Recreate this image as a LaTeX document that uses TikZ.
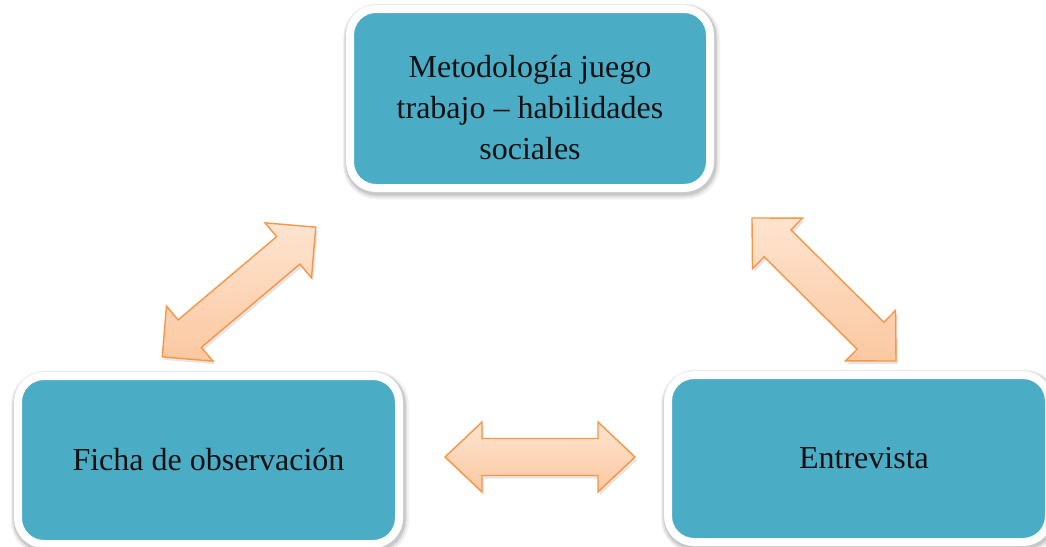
\documentclass[tikz,border=0pt]{standalone}
\usepackage{fontspec}
\setmainfont{Liberation Serif}
\usetikzlibrary{shadows}
\definecolor{teal1}{HTML}{4BACC6}
\definecolor{orng}{HTML}{F79646}
\definecolor{peachL}{HTML}{FEE4D0}
\definecolor{peachD}{HTML}{FBC8A0}
\definecolor{txt}{HTML}{111111}
\tikzset{
  boxstyle/.style={draw=white, line width=8pt, fill=teal1, rounded corners=26pt,
    preaction={draw=black, draw opacity=0.05, line width=17pt, transform canvas={shift={(1.5pt,-3pt)}}},
    preaction={draw=black, draw opacity=0.07, line width=14pt, transform canvas={shift={(1pt,-2.5pt)}}},
    preaction={draw=black, draw opacity=0.10, line width=11pt, transform canvas={shift={(1pt,-2pt)}}},
    text=txt, align=center, font=\fontsize{32}{41}\selectfont, inner sep=0pt},
  labelstyle/.style={text=txt, align=center, font=\fontsize{32}{41}\selectfont, inner sep=0pt},
  arrowfill/.style={draw=orng, line width=1.4pt, top color=peachL, bottom color=peachD,
    line join=miter,
    drop shadow={shadow xshift=2pt, shadow yshift=-3pt, opacity=0.2, fill=gray}}
}
% #1 centre, #2 angle, #3 length, #4 shaft, #5 head width, #6 head length
\newcommand{\blockarrow}[6]{%
  \begin{scope}[shift={#1}, rotate=#2]
    \path[arrowfill]
      ({-#3/2},0) -- ({-#3/2+#6},{#5/2}) -- ({-#3/2+#6},{#4/2})
      -- ({#3/2-#6},{#4/2}) -- ({#3/2-#6},{#5/2}) -- ({#3/2},0)
      -- ({#3/2-#6},{-#5/2}) -- ({#3/2-#6},{-#4/2})
      -- ({-#3/2+#6},{-#4/2}) -- ({-#3/2+#6},{-#5/2}) -- cycle;
  \end{scope}}
\begin{document}
\begin{tikzpicture}[x=1pt, y=-1pt]
\useasboundingbox (0,0) rectangle (1046,546);
\fill[white] (0,0) rectangle (1046,546);
\node[boxstyle, minimum width=360pt, minimum height=179pt] (top) at (530,98.5) {};
\node[labelstyle] (topT) at (530,108) {Metodología juego\\trabajo – habilidades\\sociales};
\node[boxstyle, minimum width=381pt, minimum height=168pt] (left) at (208.5,460)
  {Ficha de observación};
\node[boxstyle, minimum width=381pt, minimum height=167pt] (right) at (858.5,458.5) {};
\node[labelstyle] (rightT) at (864,458.5) {Entrevista};
\coordinate (aL) at (239,292);
\coordinate (aR) at (824,289.5);
\coordinate (aB) at (540,457);
\blockarrow{(aL)}{40.2}{201}{36}{72}{36}
\blockarrow{(aR)}{-44.8}{203}{38}{71}{36}
\blockarrow{(aB)}{0}{190}{37}{70}{37}
\end{tikzpicture}
\end{document}
